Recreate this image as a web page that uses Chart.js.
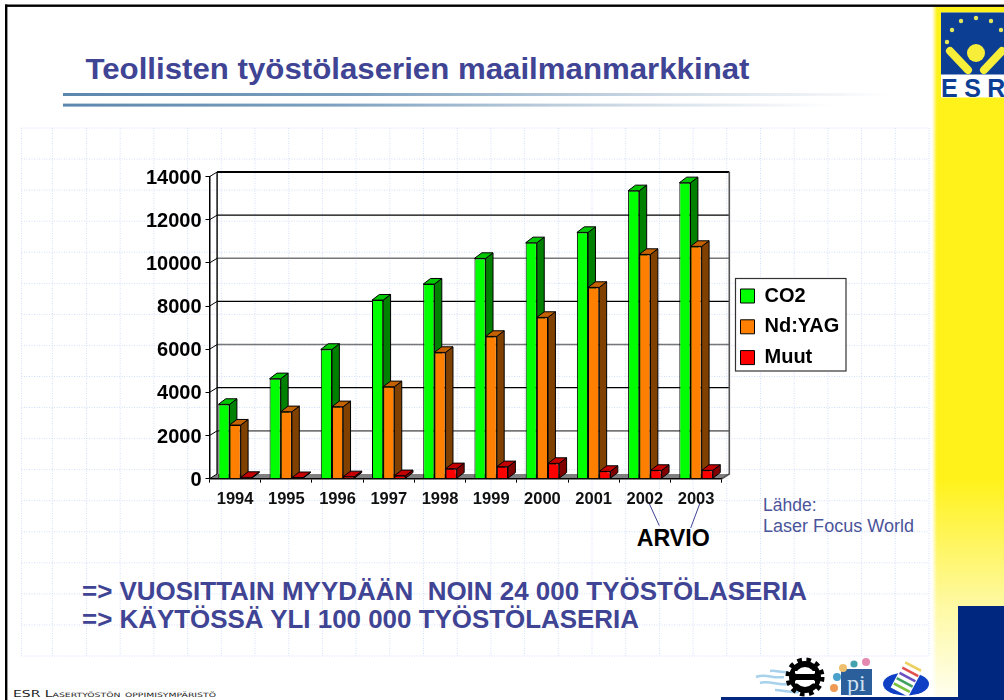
<!DOCTYPE html>
<html><head><meta charset="utf-8">
<style>
html,body{margin:0;padding:0;background:#fff;width:1004px;height:700px;overflow:hidden}
#bg,#c{position:absolute;left:0;top:0}
text{font-family:"Liberation Sans",Arial,sans-serif}
</style>
<script src="https://cdn.jsdelivr.net/npm/chart.js@4/dist/chart.umd.js"></script>
</head><body>
<svg id="bg" width="1004" height="700" viewBox="0 0 1004 700" xmlns="http://www.w3.org/2000/svg">
<defs>
<linearGradient id="yel" x1="0" y1="0" x2="0" y2="1">
<stop offset="0" stop-color="#fff21a"/><stop offset="0.68" stop-color="#fff21a"/><stop offset="0.86" stop-color="#fef9a0"/><stop offset="1" stop-color="#fffef0"/>
</linearGradient>
<linearGradient id="fade" x1="0" y1="0" x2="1" y2="0">
<stop offset="0" stop-color="#fff" stop-opacity="1"/><stop offset="1" stop-color="#fff" stop-opacity="0"/>
</linearGradient>
<linearGradient id="rule" x1="0" y1="0" x2="1" y2="0">
<stop offset="0" stop-color="#5c87ad"/><stop offset="0.35" stop-color="#7da0bf"/><stop offset="0.7" stop-color="#c9d6e2"/><stop offset="1" stop-color="#ffffff"/>
</linearGradient>
</defs>
<rect x="932" y="7" width="72" height="693" fill="url(#yel)"/>
<rect x="932" y="7" width="5" height="693" fill="url(#fade)"/>
<rect x="958" y="606" width="46" height="94" fill="#00277f"/>
<rect x="721" y="697" width="283" height="3" fill="#00277f"/>
<rect x="5" y="4.5" width="999" height="2.4" fill="#000"/>
<rect x="5" y="4.5" width="2.4" height="696" fill="#000"/>
<g id="grid" stroke="#d3def8" stroke-width="1" stroke-dasharray="1 1.5" fill="none"></g>
<rect x="63" y="93" width="827" height="3" fill="url(#rule)"/>
<rect x="63" y="103.6" width="770" height="3" fill="url(#rule)"/>
<text x="85.5" y="78.5" font-size="29.5" font-weight="bold" fill="#3f4494" textLength="664" lengthAdjust="spacingAndGlyphs">Teollisten työstölaserien maailmanmarkkinat</text>
<text x="82" y="600" font-size="25" font-weight="bold" fill="#3f4494" xml:space="preserve" textLength="725" lengthAdjust="spacingAndGlyphs">=&gt; VUOSITTAIN MYYDÄÄN  NOIN 24 000 TYÖSTÖLASERIA</text>
<text x="82" y="628" font-size="25" font-weight="bold" fill="#3f4494" textLength="557" lengthAdjust="spacingAndGlyphs">=&gt; KÄYTÖSSÄ YLI 100 000 TYÖSTÖLASERIA</text>
<text x="763" y="510.7" font-size="17.5" fill="#4a5499">Lähde:</text>
<text x="763" y="532" font-size="17.5" fill="#4a5499" textLength="151" lengthAdjust="spacingAndGlyphs">Laser Focus World</text>
<text x="636.7" y="545.7" font-size="23" font-weight="bold" fill="#000" textLength="73" lengthAdjust="spacingAndGlyphs">ARVIO</text>
<line x1="649" y1="503" x2="659.3" y2="525.7" stroke="#3f4494" stroke-width="1"/>
<line x1="700" y1="503" x2="690.7" y2="528" stroke="#3f4494" stroke-width="1"/>
<text x="13" y="697" font-size="9" fill="#222" style="font-family:'DejaVu Sans';font-variant:small-caps" textLength="203" lengthAdjust="spacingAndGlyphs">ESR Lasertyöstön oppimisympäristö</text>
<!-- ESR logo -->
<rect x="941" y="12.5" width="63" height="85" fill="#fff"/>
<rect x="941" y="12.5" width="63" height="62" fill="#0c3f94"/>
<g fill="#e6e85a">
<circle cx="976" cy="18" r="2.2"/><circle cx="961" cy="21" r="2.2"/><circle cx="991" cy="21" r="2.2"/><circle cx="952" cy="30" r="2.2"/><circle cx="1001" cy="30" r="2.2"/><circle cx="947" cy="42" r="2.2"/>
</g>
<circle cx="976" cy="53" r="9" fill="#f7ee3a"/>
<line x1="950" y1="51" x2="968" y2="70" stroke="#f7ee3a" stroke-width="8" stroke-linecap="round"/>
<line x1="1002" y1="51" x2="984" y2="70" stroke="#f7ee3a" stroke-width="8" stroke-linecap="round"/>
<text x="941" y="97" font-size="25" font-weight="bold" fill="#0c3f94" letter-spacing="6.5">ESR</text>
<!-- partner marks -->
<path d="M756 677c10-4 16 2 28 0M760 683c10-3 18 3 28 1M770 671c6-1 12 2 18 1M775 690c8 0 14 3 24 2" stroke="#a8d2ec" stroke-width="2.5" fill="none"/>
<circle cx="805" cy="677" r="13" fill="none" stroke="#000" stroke-width="6"/>
<circle cx="805" cy="677" r="17" fill="none" stroke="#000" stroke-width="5" stroke-dasharray="4.5 4.5"/>
<rect x="790" y="674" width="30" height="6" fill="#000"/>
<rect x="795" y="671" width="20" height="2.5" fill="#fff"/><rect x="795" y="681" width="20" height="2.5" fill="#fff"/>
<rect x="841" y="669" width="31" height="26" fill="#2a5f9c"/>
<text x="847" y="691" font-size="24" fill="#cfe0ef" style="font-family:'Liberation Serif'">pi</text>
<circle cx="854" cy="664" r="3.6" fill="#45a3b0"/><circle cx="866" cy="662" r="4" fill="#e48ab0"/><circle cx="843" cy="668" r="4" fill="#efc070"/><circle cx="837" cy="677" r="4" fill="#4aa2cc"/><circle cx="834" cy="688" r="4" fill="#ee9a55"/>
<ellipse cx="906" cy="684" rx="23" ry="11.5" fill="#0f3fc4"/>
<g transform="rotate(28 907 678)" stroke-width="2.6" fill="none">
<rect x="897" y="662" width="20" height="32" fill="#fff"/>
<line x1="898" y1="665" x2="916" y2="665" stroke="#ecd060"/><line x1="898" y1="671" x2="916" y2="671" stroke="#e05050"/><line x1="898" y1="677" x2="916" y2="677" stroke="#6a4fc0"/><line x1="898" y1="683" x2="916" y2="683" stroke="#3fa060"/><line x1="898" y1="689" x2="916" y2="689" stroke="#7cc040"/>
</g>
</svg>
<canvas id="c" width="1004" height="700"></canvas>
<script>
const categories = ['1994','1995','1996','1997','1998','1999','2000','2001','2002','2003'];
const co2Values   = [3445,4635,5995,8280,9023,10212,10938,11417,13349,13720];
const ndYagValues = [2487,3105,3337,4264,5855,6597,7478,8868,10398,10769];
const muutValues  = [60,50,90,140,463,556,710,340,386,386];
const yTicks = [0,2000,4000,6000,8000,10000,12000,14000];

// background dotted grid
(function(){
  const g = document.getElementById('grid');
  let s = '';
  const xs = [21.5,52.5];
  for (let i=0;i<=25;i++) xs.push(86.5+33.7*i);
  const ys = [];
  for (let i=0;i<=17;i++) ys.push(128+31.06*i);
  xs.forEach(x=>{s+=`<line x1="${x}" y1="128" x2="${x}" y2="656"/>`;});
  ys.forEach(y=>{s+=`<line x1="21.5" y1="${y}" x2="929" y2="${y}"/>`;});
  g.innerHTML = s;
})();

const DX = 7.6, DY = 4.7;       // wall depth
const BDX = 7.4, BDY = 5.6;     // bar depth
const wallStyles = {0:['#000',1],2000:['#777',1.6],4000:['#000',1.3],6000:['#777',1.6],8000:['#000',1.3],10000:['#777',1.6],12000:['#000',1.3],14000:['#000',2]};

const box3d = {
  id:'box3d',
  beforeDraw(chart){
    const ctx = chart.ctx, y = chart.scales.y, a = chart.chartArea;
    ctx.save();
    // floor
    ctx.fillStyle = '#808080';
    ctx.beginPath();
    ctx.moveTo(a.left,a.bottom);ctx.lineTo(a.right,a.bottom);
    ctx.lineTo(a.right+DX,a.bottom-DY);ctx.lineTo(a.left+DX,a.bottom-DY);ctx.closePath();ctx.fill();
    // wall lines
    yTicks.forEach(v=>{
      const p = y.getPixelForValue(v), st = wallStyles[v];
      ctx.strokeStyle = '#000'; ctx.lineWidth = 1;
      ctx.beginPath();ctx.moveTo(a.left,p);ctx.lineTo(a.left+DX,p-DY);ctx.stroke();
      if (v>0){
        ctx.strokeStyle = st[0]; ctx.lineWidth = st[1];
        ctx.beginPath();ctx.moveTo(a.left+DX,p-DY);ctx.lineTo(a.right+DX,p-DY);ctx.stroke();
      }
    });
    ctx.strokeStyle='#000';ctx.lineWidth=1.4;
    ctx.beginPath();ctx.moveTo(a.left+DX,a.top-DY);ctx.lineTo(a.left+DX,a.bottom-DY);ctx.stroke();
    ctx.strokeStyle='#555';ctx.lineWidth=1.6;
    ctx.beginPath();ctx.moveTo(a.right+DX,a.top-DY);ctx.lineTo(a.right+DX,a.bottom-DY);ctx.lineTo(a.right,a.bottom);ctx.stroke();
    // legend frame
    ctx.fillStyle='#fff';ctx.fillRect(735,278,111,93);
    ctx.strokeStyle='#333';ctx.lineWidth=1.2;ctx.strokeRect(735.5,278.5,110.5,92.5);
    ctx.restore();
  },
  afterLayout(chart){
    const l = chart.legend, w = l.width, h = l.height;
    l.left = 729.7; l.right = l.left + w; l.top = 275.2; l.bottom = l.top + h;
  },
  // depth faces of all bars, in series order; the library then paints the front faces on top
  beforeDatasetsDraw(chart){
    const ctx = chart.ctx;
    ctx.save();
    ctx.strokeStyle='#000';ctx.lineWidth=1;ctx.lineJoin='round';
    chart.data.datasets.forEach((ds,i)=>{
      chart.getDatasetMeta(i).data.forEach(el=>{
        const l = el.x-el.width/2, r = el.x+el.width/2, t = el.y, b = el.base;
        ctx.fillStyle = ds.sideColor;
        ctx.beginPath();ctx.moveTo(r,t);ctx.lineTo(r+BDX,t-BDY);ctx.lineTo(r+BDX,b-BDY);ctx.lineTo(r,b);ctx.closePath();ctx.fill();ctx.stroke();
        ctx.fillStyle = ds.topColor;
        ctx.beginPath();ctx.moveTo(l,t);ctx.lineTo(l+BDX,t-BDY);ctx.lineTo(r+BDX,t-BDY);ctx.lineTo(r,t);ctx.closePath();ctx.fill();ctx.stroke();
      });
    });
    ctx.restore();
  }
};

const font = (size)=>({family:'"Liberation Sans",Arial,sans-serif',weight:'bold',size});

new Chart(document.getElementById('c'),{
  type:'bar',
  data:{labels:categories,datasets:[
    {label:'CO2',data:co2Values,backgroundColor:'#00ff00',sideColor:'#008000',topColor:'#00c800',borderColor:'#000',borderWidth:1},
    {label:'Nd:YAG',data:ndYagValues,backgroundColor:'#ff8000',sideColor:'#804000',topColor:'#c46200',borderColor:'#000',borderWidth:1},
    {label:'Muut',data:muutValues,backgroundColor:'#ff0000',sideColor:'#800000',topColor:'#c40000',borderColor:'#000',borderWidth:1}
  ]},
  options:{
    responsive:false,animation:false,devicePixelRatio:1,
    events:[],
    layout:{padding:{left:0,top:176.7,right:282.3,bottom:0}},
    datasets:{bar:{categoryPercentage:0.655,barPercentage:1}},
    scales:{
      x:{
        grid:{display:true,drawOnChartArea:false,drawTicks:true,tickLength:4,color:'#000',offset:true},
        border:{display:true,color:'#000',width:1.5},
        ticks:{font:font(16.5),color:'#111',padding:7,maxRotation:0,autoSkip:false},
        afterFit(s){s.height=700-478.7;}
      },
      y:{
        min:0,max:14000,
        grid:{display:true,drawOnChartArea:false,drawTicks:true,tickLength:4,color:'#000'},
        border:{display:true,color:'#000',width:1.5},
        ticks:{stepSize:2000,font:font(20),color:'#000',padding:4,labelOffset:1.5,callback:v=>String(v)},
        afterFit(s){s.width=209.5;}
      }
    },
    plugins:{
      title:{display:false},tooltip:{enabled:false},
      legend:{
        display:true,position:'chartArea',align:'start',
        labels:{boxWidth:14,boxHeight:14,padding:10.8,font:font(20),color:'#000',
          sort:(a,b)=>a.datasetIndex-b.datasetIndex}
      }
    }
  },
  plugins:[box3d]
});
</script>
</body></html>
